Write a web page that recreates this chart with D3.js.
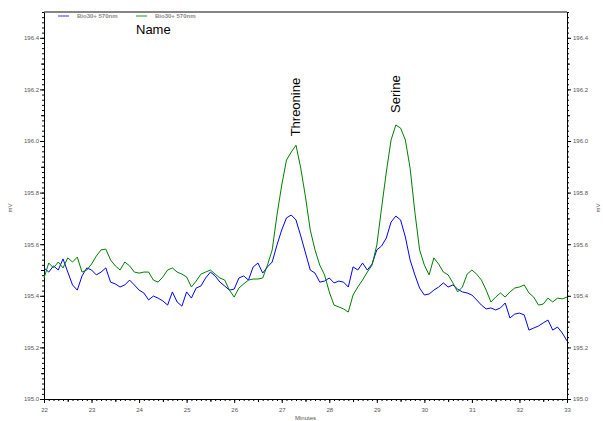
<!DOCTYPE html>
<html>
<head>
<meta charset="utf-8">
<script src="https://cdn.jsdelivr.net/npm/d3@7"></script>
<style>
  body { margin: 0; background: #fff; }
  svg { display: block; font-family: "Liberation Sans", Arial, sans-serif; }
  .tick text { fill: #555; }
  .domain, .tick line { stroke: #000; }
</style>
</head>
<body>
<div id="chart"></div>
<script>
// time grid: 22.0 .. 33.0 minutes, every 0.1
var times = d3.range(0, 111).map(i => 22 + i / 10);

// Bio30+ 570nm (blue trace), mV
var blueValues = [
  195.508, 195.492, 195.516, 195.500, 195.543, 195.492, 195.442, 195.422, 195.477, 195.508,
  195.500, 195.481, 195.492, 195.508, 195.453, 195.446, 195.434, 195.442, 195.461, 195.442,
  195.422, 195.411, 195.384, 195.399, 195.391, 195.380, 195.364, 195.415, 195.376, 195.360,
  195.415, 195.391, 195.430, 195.438, 195.469, 195.492, 195.477, 195.453, 195.438, 195.422,
  195.426, 195.469, 195.477, 195.461, 195.512, 195.527, 195.488, 195.512, 195.531, 195.597,
  195.655, 195.702, 195.713, 195.694, 195.632, 195.566, 195.500, 195.488, 195.453, 195.457,
  195.469, 195.450, 195.457, 195.453, 195.434, 195.512, 195.500, 195.527, 195.500, 195.523,
  195.578, 195.593, 195.624, 195.686, 195.709, 195.694, 195.628, 195.539, 195.481, 195.430,
  195.403, 195.407, 195.422, 195.434, 195.450, 195.434, 195.442, 195.426, 195.415, 195.411,
  195.403, 195.384, 195.364, 195.349, 195.353, 195.345, 195.353, 195.372, 195.314, 195.329,
  195.333, 195.326, 195.267, 195.275, 195.283, 195.295, 195.306, 195.267, 195.279, 195.256,
  195.225
];

// Bio30+ 570nm (green trace), mV
var greenValues = [
  195.469, 195.527, 195.508, 195.531, 195.508, 195.547, 195.531, 195.550, 195.492, 195.500,
  195.523, 195.554, 195.578, 195.581, 195.539, 195.516, 195.500, 195.531, 195.516, 195.492,
  195.488, 195.492, 195.492, 195.461, 195.453, 195.473, 195.500, 195.508, 195.492, 195.484,
  195.473, 195.434, 195.457, 195.484, 195.492, 195.500, 195.484, 195.469, 195.461, 195.422,
  195.395, 195.430, 195.446, 195.461, 195.465, 195.465, 195.469, 195.519, 195.578, 195.713,
  195.829, 195.926, 195.957, 195.984, 195.895, 195.783, 195.655, 195.578, 195.519, 195.481,
  195.415, 195.364, 195.357, 195.349, 195.337, 195.403, 195.434, 195.461, 195.492, 195.519,
  195.597, 195.740, 195.880, 196.004, 196.062, 196.050, 196.004, 195.895, 195.725, 195.578,
  195.519, 195.481, 195.547, 195.523, 195.492, 195.481, 195.450, 195.415, 195.434, 195.484,
  195.500, 195.484, 195.461, 195.422, 195.376, 195.395, 195.411, 195.395, 195.415, 195.430,
  195.434, 195.442, 195.411, 195.395, 195.364, 195.368, 195.391, 195.376, 195.391, 195.388,
  195.395
];

var seriesNames = ["Bio30+ 570nm", "Bio30+ 570nm"];
var seriesColors = ["#0000ff", "#008000"];
var legendColors = ["#7777ff", "#66bb66"];

// peak names and where they sit (minutes, mV at the foot of the label)
var peakNames = ["Threonine", "Serine"];
var peakTimes = [27.28, 29.38];
var peakLabelLevels = [196.018, 196.109];

var yMajor = d3.range(0, 8).map(i => 195 + i * 0.2);
var xMajor = d3.range(22, 34);

var width = 603, height = 421;
var margin = {top: 12, right: 36, bottom: 22, left: 44};
var innerW = width - margin.left - margin.right,
    innerH = height - margin.top - margin.bottom;

var x = d3.scaleLinear().domain([22, 33]).range([0, innerW]);
var y = d3.scaleLinear().domain([195.0, 196.5]).range([innerH, 0]);

var svg = d3.select("#chart").append("svg")
    .attr("width", width)
    .attr("height", height);

var g = svg.append("g")
    .attr("transform", "translate(" + margin.left + "," + margin.top + ")");

// gray frame line on top
g.append("line")
    .attr("x1", 0).attr("x2", innerW)
    .attr("y1", 0).attr("y2", 0)
    .attr("stroke", "#858585")
    .attr("stroke-width", 2);

// minor tick helper: draws a tick-only axis
function minorAxis(axisFn, scale, values, size, transform) {
  g.append("g")
      .attr("transform", transform)
      .call(axisFn(scale).tickValues(values).tickSize(size).tickSizeOuter(0).tickFormat(""))
      .call(s => s.select(".domain").remove());
}

var yMinor = d3.range(0, 76).map(i => 195 + i * 0.02);
var yMid = d3.range(0, 15).map(i => 195.1 + i * 0.2).filter(v => v < 196.5);
var xMinor = d3.range(0, 111).map(i => 22 + i / 10);
var xMid = d3.range(0, 11).map(i => 22.5 + i);

// left axis
minorAxis(d3.axisLeft, y, yMinor, 2, "translate(0,0)");
minorAxis(d3.axisLeft, y, yMid, 3, "translate(0,0)");
g.append("g")
    .call(d3.axisLeft(y).tickValues(yMajor).tickSize(4).tickSizeOuter(0)
      .tickPadding(1).tickFormat(d3.format(".1f")))
    .call(s => s.selectAll("text").attr("font-size", 6));

// right axis
minorAxis(d3.axisRight, y, yMinor, 2, "translate(" + innerW + ",0)");
minorAxis(d3.axisRight, y, yMid, 3, "translate(" + innerW + ",0)");
g.append("g")
    .attr("transform", "translate(" + innerW + ",0)")
    .call(d3.axisRight(y).tickValues(yMajor).tickSize(4).tickSizeOuter(0)
      .tickPadding(2).tickFormat(d3.format(".1f")))
    .call(s => s.selectAll("text").attr("font-size", 6));

// bottom axis
minorAxis(d3.axisBottom, x, xMinor, 2, "translate(0," + innerH + ")");
minorAxis(d3.axisBottom, x, xMid, 3, "translate(0," + innerH + ")");
g.append("g")
    .attr("transform", "translate(0," + innerH + ")")
    .call(d3.axisBottom(x).tickValues(xMajor).tickSize(4).tickSizeOuter(0)
      .tickPadding(5).tickFormat(d3.format("d")))
    .call(s => s.selectAll("text").attr("font-size", 6));

// axis titles
svg.append("text")
    .attr("transform", "translate(12,208) rotate(-90)")
    .attr("text-anchor", "middle")
    .attr("font-size", 6).attr("fill", "#555")
    .text("mV");
svg.append("text")
    .attr("transform", "translate(600,208) rotate(-90)")
    .attr("text-anchor", "middle")
    .attr("font-size", 6).attr("fill", "#555")
    .text("mV");
svg.append("text")
    .attr("x", margin.left + x(27.5)).attr("y", 420)
    .attr("text-anchor", "middle")
    .attr("font-size", 6).attr("fill", "#555")
    .text("Minutes");

// traces
var line = d3.line()
    .x(d => x(d.t))
    .y(d => y(d.v));

var series = [blueValues, greenValues];
series.forEach((vals, k) => {
  var data = times.map((t, i) => ({t: t, v: vals[i]}));
  g.append("path")
      .datum(data)
      .attr("fill", "none")
      .attr("stroke", seriesColors[k])
      .attr("stroke-width", 1)
      .attr("stroke-linejoin", "round")
      .attr("d", line);
});

// peak labels, rotated
peakNames.forEach((name, i) => {
  g.append("text")
      .attr("transform", "translate(" + (x(peakTimes[i]) + 5) + "," + y(peakLabelLevels[i]) + ") rotate(-90)")
      .attr("font-size", 13)
      .attr("fill", "#000")
      .text(name);
});

// legend
var legend = svg.append("g");
var legendX = [58, 136];
seriesNames.forEach((name, i) => {
  legend.append("line")
      .attr("x1", legendX[i]).attr("x2", legendX[i] + 11)
      .attr("y1", 16).attr("y2", 16)
      .attr("stroke", legendColors[i])
      .attr("stroke-width", 1.5);
  legend.append("text")
      .attr("x", legendX[i] + 19).attr("y", 18)
      .attr("font-size", 6)
      .attr("font-weight", "bold")
      .attr("fill", "#8a8a8a")
      .text(name);
});

svg.append("text")
    .attr("x", 136).attr("y", 34)
    .attr("font-size", 13)
    .attr("fill", "#000")
    .text("Name");
</script>
</body>
</html>
